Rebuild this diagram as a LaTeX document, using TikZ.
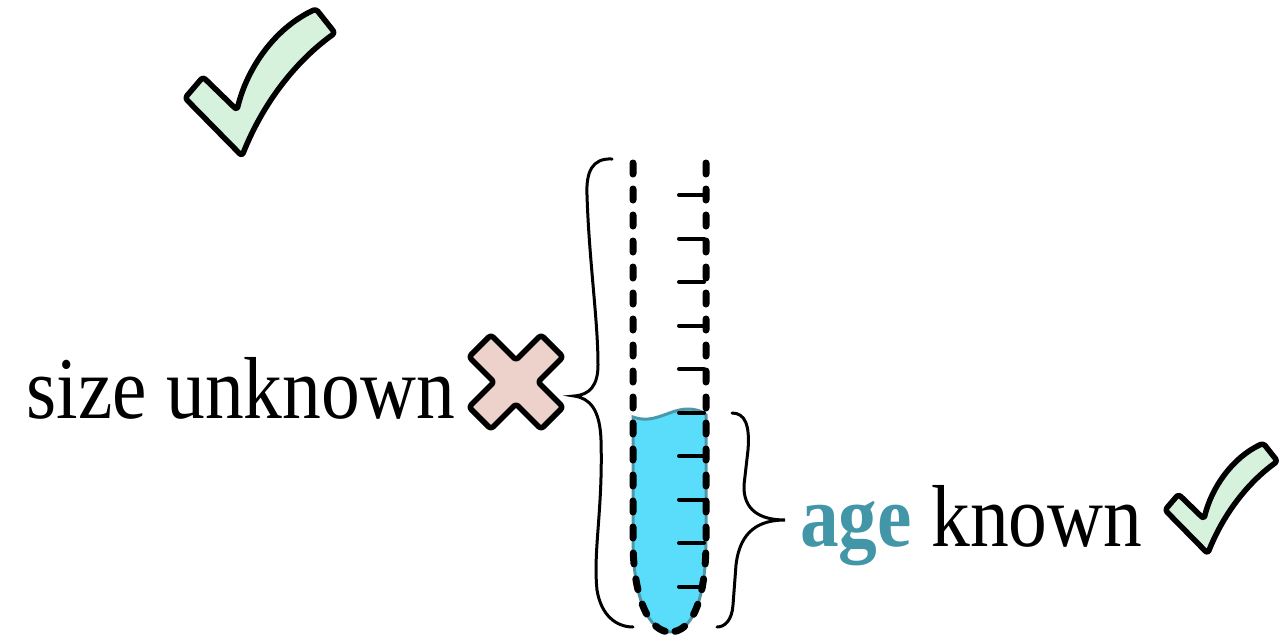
\documentclass[tikz,border=0pt]{standalone}
\usepackage{fontspec}
\setmainfont{Liberation Serif}[FakeStretch=0.88]
\definecolor{checkfill}{HTML}{D6F1DC}
\definecolor{crossfill}{HTML}{EDD1CB}
\definecolor{agecolor}{HTML}{4396A8}
\definecolor{liquid}{HTML}{5ADDFB}
\definecolor{liquidedge}{HTML}{4A98AA}
\tikzset{
  markline/.style={draw=black, line width=5.5pt, line join=round, rounded corners=3pt},
  tubewall/.style={draw=black, line width=7pt, line cap=round, dash pattern=on 11pt off 15pt},
  gradtick/.style={draw=black, line width=4pt, line cap=round},
  bracket/.style={draw=black, line width=3pt, line cap=round},
  caption/.style={inner sep=0pt, font=\fontsize{88}{100}\selectfont},
  checkmark/.pic={
    \path[markline, fill=checkfill]
      (0,0) -- (18,-21) -- (52,12)
      .. controls (62,-30) and (90,-70) .. (131,-89)
      -- (150,-65)
      .. controls (115,-40) and (80,0) .. (57,58) -- cycle;
  }
}
\begin{document}
\begin{tikzpicture}[x=1pt,y=-1pt]
\useasboundingbox (0,0) rectangle (1286,635);

% check marks
\pic (bigcheck) at (185,98) {checkmark};
\pic[scale=0.75] (smallcheck) at (1165,510) {checkmark};

% cross
\begin{scope}[shift={(516,382)}, rotate=45]
  \path[markline, fill=crossfill]
    (-15.5,51) -- (15.5,51) -- (15.5,15.5) -- (51,15.5) -- (51,-15.5) -- (15.5,-15.5)
    -- (15.5,-51) -- (-15.5,-51) -- (-15.5,-15.5) -- (-51,-15.5) -- (-51,15.5) -- (-15.5,15.5) -- cycle;
\end{scope}

% liquid in the tube
\path[fill=liquid, draw=liquidedge, line width=3pt]
  (633,417) .. controls (655,425) and (670,408) .. (690,409)
  .. controls (700,410) and (705,413) .. (706,415)
  -- (706,540) .. controls (706,600) and (692,632) .. (670,632)
  .. controls (650,632) and (633,600) .. (633,540) -- cycle;

% tube walls
\draw[tubewall] (633,163) -- (633,540) .. controls (633,600) and (650,632) .. (670,632);
\draw[tubewall] (706,163) -- (706,540) .. controls (706,600) and (692,632) .. (670,632);

% graduation ticks
\foreach \ty in {195,238.5,282,325.5,369,412.5,456,499.5,543,586.5}
  \draw[gradtick] (679,\ty) -- (704,\ty);

% braces
\coordinate (lefttip) at (574,396);
\coordinate (righttip) at (785,520);
\draw[bracket] (612,159) .. controls (592,158) and (586,172) .. (587,195)
  .. controls (589,260) and (598,320) .. (598,365)
  .. controls (598,385) and (590,395) .. (lefttip)
  .. controls (590,398) and (600,410) .. (601,440)
  .. controls (603,510) and (593,550) .. (597,590)
  .. controls (601,615) and (616,627) .. (633,627);
\draw[bracket] (732,413) .. controls (745,413) and (750,425) .. (748,450)
  -- (744,485) .. controls (743,510) and (760,520) .. (righttip)
  .. controls (760,520) and (740,530) .. (736,565)
  -- (733,605) .. controls (732,620) and (725,627) .. (717,627);

% labels
\node[caption, anchor=base east] (sizelabel) at (455,418) {size unknown};
\node[caption, anchor=base west] (agelabel) at (800,546) {\textcolor{agecolor}{\bfseries age} known};
\end{tikzpicture}
\end{document}
